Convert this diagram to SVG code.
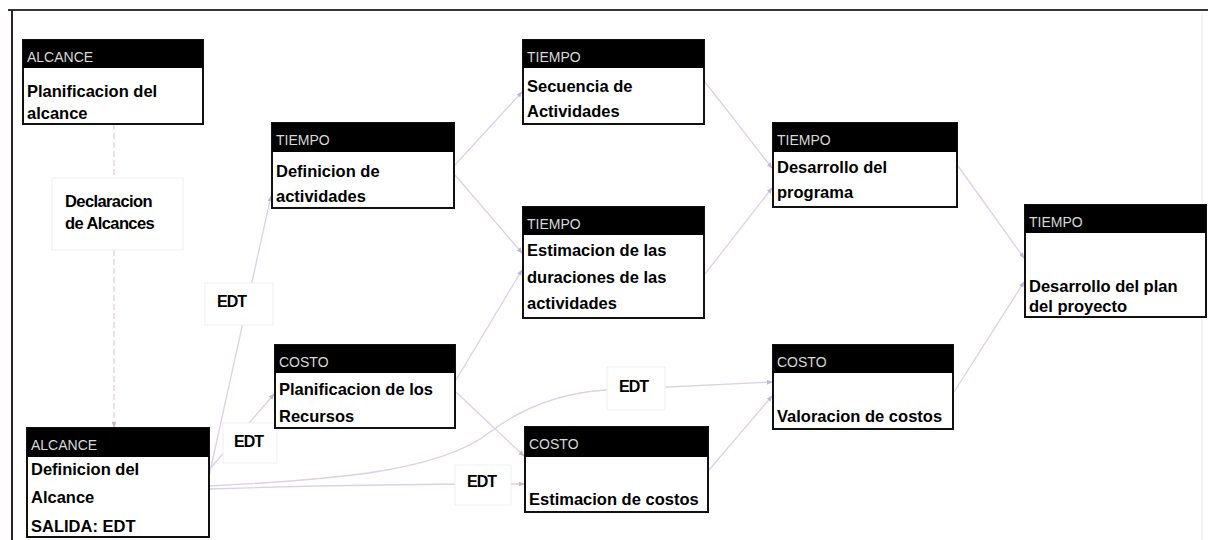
<svg xmlns="http://www.w3.org/2000/svg" width="1208" height="540" viewBox="0 0 1208 540">
<defs>
<style>
.box{fill:#fff;stroke:#111;stroke-width:2}
.hdr{fill:#000}
.ht{font-family:"Liberation Sans",Arial,sans-serif;font-size:14px;fill:#d8d8d8}
.bt{font-family:"Liberation Sans",Arial,sans-serif;font-size:16.5px;font-weight:bold;fill:#000}
.et{font-family:"Liberation Sans",Arial,sans-serif;font-size:16px;font-weight:bold;fill:#000;letter-spacing:-1px}
.lbl{fill:#fff;stroke:#efefef;stroke-width:1}
.c{fill:none;stroke:#ddd0e5;stroke-width:1.3;marker-end:url(#ah)}
.cn{fill:none;stroke:#ddd0e5;stroke-width:1.3}
</style>
<marker id="ah" viewBox="0 0 10 10" refX="9" refY="5" markerWidth="6" markerHeight="6" orient="auto" markerUnits="userSpaceOnUse">
<path d="M0,1 L10,5 L0,9 z" fill="#c2b4d6"/>
</marker>
</defs>
<rect x="0" y="0" width="1208" height="540" fill="#fff"/>
<g id="frame">
<line x1="8" y1="10" x2="1208" y2="10" stroke="#3b3436" stroke-width="2"/>
<line x1="12" y1="10" x2="12" y2="540" stroke="#2a2426" stroke-width="2"/>
<line x1="1202" y1="14" x2="1202" y2="540" stroke="#e6e6e6" stroke-width="1"/>
</g>
<g id="connectors">
<path class="cn" d="M114,124 L114,178" stroke-dasharray="6 3"/>
<path class="c" d="M114,250 L114,427" stroke-dasharray="6 3"/>
<path class="c" d="M209,476 L271,196"/>
<path class="c" d="M209,470 L274,394"/>
<path class="c" d="M209,486 C330,480 440,472 490,432 C530,402 570,392 607,390 L772,382"/>
<path class="c" d="M209,489 C300,486 400,484 524,484"/>
<path class="c" d="M455,165 L522,92"/>
<path class="c" d="M455,175 L522,253"/>
<path class="c" d="M705,82 L772,168"/>
<path class="c" d="M705,274 L772,188"/>
<path class="c" d="M456,380 L522,270"/>
<path class="c" d="M456,392 L524,456"/>
<path class="c" d="M709,470 L772,396"/>
<path class="c" d="M958,166 L1024,258"/>
<path class="c" d="M954,392 L1024,282"/>
</g>
<g id="label-declaracion">
<rect class="lbl" x="52" y="178" width="131" height="72"/>
<text class="bt" x="65" y="207" letter-spacing="-0.6">Declaracion</text>
<text class="bt" x="65" y="229" letter-spacing="-0.6">de Alcances</text>
</g>
<g id="label-edt1">
<rect class="lbl" x="205" y="283" width="68" height="42"/>
<text class="et" x="217" y="307">EDT</text>
</g>
<g id="label-edt2">
<rect class="lbl" x="223" y="423" width="54" height="40"/>
<text class="et" x="234" y="447">EDT</text>
</g>
<g id="label-edt3">
<rect class="lbl" x="455" y="465" width="56" height="40"/>
<text class="et" x="467" y="487">EDT</text>
</g>
<g id="label-edt4">
<rect class="lbl" x="607" y="367" width="58" height="43"/>
<text class="et" x="619" y="392">EDT</text>
</g>
<g id="n-planificacion-alcance">
<rect class="box" x="23" y="40" width="180" height="84"/>
<rect class="hdr" x="23" y="40" width="180" height="28"/>
<text class="ht" x="27" y="62">ALCANCE</text>
<text class="bt" x="27" y="97">Planificacion del</text>
<text class="bt" x="27" y="119">alcance</text>
</g>
<g id="n-definicion-alcance">
<rect class="box" x="27" y="428" width="182" height="109"/>
<rect class="hdr" x="27" y="428" width="182" height="29"/>
<text class="ht" x="31" y="450">ALCANCE</text>
<text class="bt" x="31" y="475">Definicion del</text>
<text class="bt" x="31" y="503">Alcance</text>
<text class="bt" x="31" y="532">SALIDA: EDT</text>
</g>
<g id="n-definicion-actividades">
<rect class="box" x="272" y="123" width="182" height="85"/>
<rect class="hdr" x="272" y="123" width="182" height="29"/>
<text class="ht" x="276" y="145">TIEMPO</text>
<text class="bt" x="276" y="177">Definicion de</text>
<text class="bt" x="276" y="202">actividades</text>
</g>
<g id="n-planificacion-recursos">
<rect class="box" x="275" y="345" width="180" height="83"/>
<rect class="hdr" x="275" y="345" width="180" height="28"/>
<text class="ht" x="279" y="367">COSTO</text>
<text class="bt" x="279" y="395">Planificacion de los</text>
<text class="bt" x="279" y="422">Recursos</text>
</g>
<g id="n-secuencia">
<rect class="box" x="523" y="40" width="181" height="84"/>
<rect class="hdr" x="523" y="40" width="181" height="28"/>
<text class="ht" x="527" y="62">TIEMPO</text>
<text class="bt" x="527" y="92">Secuencia de</text>
<text class="bt" x="527" y="117">Actividades</text>
</g>
<g id="n-estimacion-duraciones">
<rect class="box" x="523" y="207" width="181" height="111"/>
<rect class="hdr" x="523" y="207" width="181" height="28"/>
<text class="ht" x="527" y="229">TIEMPO</text>
<text class="bt" x="527" y="256">Estimacion de las</text>
<text class="bt" x="527" y="283">duraciones de las</text>
<text class="bt" x="527" y="309">actividades</text>
</g>
<g id="n-estimacion-costos">
<rect class="box" x="525" y="427" width="183" height="85"/>
<rect class="hdr" x="525" y="427" width="183" height="30"/>
<text class="ht" x="529" y="449">COSTO</text>
<text class="bt" x="529" y="505">Estimacion de costos</text>
</g>
<g id="n-desarrollo-programa">
<rect class="box" x="773" y="123" width="184" height="84"/>
<rect class="hdr" x="773" y="123" width="184" height="29"/>
<text class="ht" x="777" y="145">TIEMPO</text>
<text class="bt" x="777" y="173">Desarrollo del</text>
<text class="bt" x="777" y="198">programa</text>
</g>
<g id="n-valoracion-costos">
<rect class="box" x="773" y="345" width="180" height="84"/>
<rect class="hdr" x="773" y="345" width="180" height="28"/>
<text class="ht" x="777" y="367">COSTO</text>
<text class="bt" x="777" y="422">Valoracion de costos</text>
</g>
<g id="n-desarrollo-plan">
<rect class="box" x="1025" y="205" width="181" height="112"/>
<rect class="hdr" x="1025" y="205" width="181" height="28"/>
<text class="ht" x="1029" y="227">TIEMPO</text>
<text class="bt" x="1029" y="292">Desarrollo del plan</text>
<text class="bt" x="1029" y="312">del proyecto</text>
</g>
</svg>
